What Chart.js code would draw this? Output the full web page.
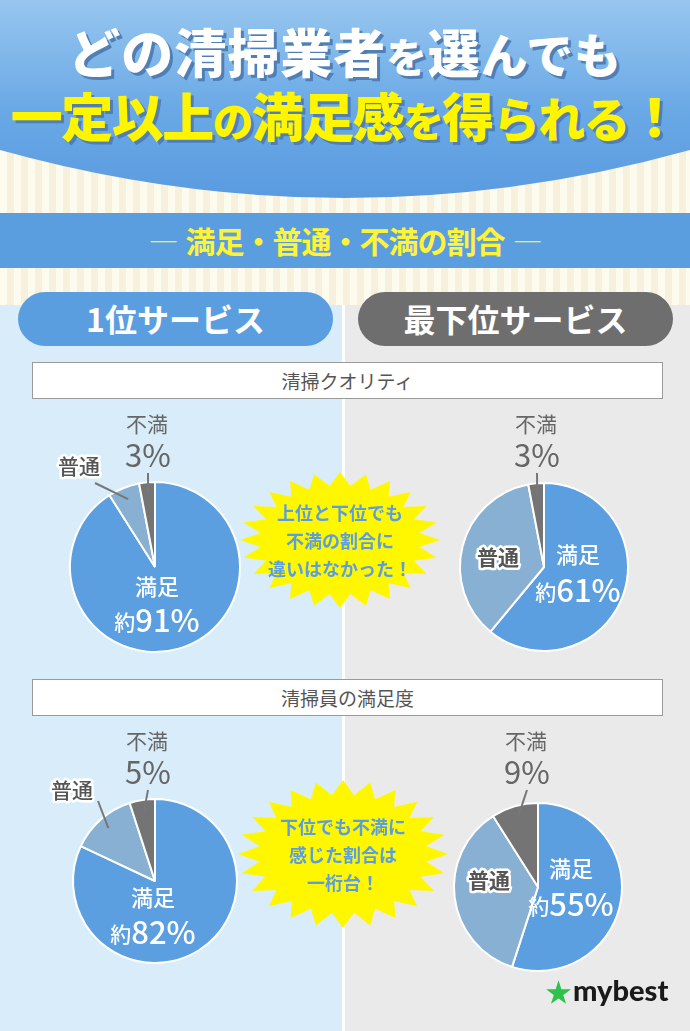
<!DOCTYPE html>
<html lang="ja">
<head>
<meta charset="utf-8">
<script src="https://cdn.jsdelivr.net/npm/chart.js@4.4.0/dist/chart.umd.min.js"></script>
<style>
  body { margin: 0; width: 690px; height: 1031px; overflow: hidden; position: relative;
         font-family: "Noto Sans CJK JP", "Noto Sans", sans-serif; background: #fcf8ea; }
  .abs { position: absolute; }
  #cream { left: 0; top: 0; width: 690px; height: 320px;
           background: repeating-linear-gradient(90deg, #fdfaee 0 7px, #f6f0dc 7px 14px); }
  #title { left: 0; top: 0; width: 690px; text-align: center; font-weight: 900; }
  .t1 { position: absolute; left: 0; width: 690px; top: 20px; font-size: 52px; line-height: 62px; color: #fff;
        text-shadow: 3px 3px 0 #4f7fb5; letter-spacing: 1px; }
  .t2 { position: absolute; left: 0; width: 690px; top: 84px; font-size: 52px; line-height: 62px; color: #fff500;
        text-shadow: 3px 3px 0 #4f7fb5; letter-spacing: -1.5px; }
  .sm { font-size: 0.78em; }
  .md { font-size: 0.9em; }
  #band { left: 0; top: 213px; width: 690px; height: 55px; background: #5b9ee0; color: #fff33a;
          text-align: center; font-size: 30px; font-weight: 700; line-height: 55px; letter-spacing: -1px; }
  #band .d { font-weight: 400; margin: 0 8px; }
  #panelL { left: 0; top: 305px; width: 342px; height: 726px; background: #d8edf9; }
  #panelR { left: 345px; top: 305px; width: 345px; height: 726px; background: #eaeaea; }
  #divider { left: 342px; top: 305px; width: 3px; height: 726px; background: #fff; }
  .pill { top: 292px; width: 315px; height: 54px; border-radius: 27px; color: #fff; text-align: center;
          font-size: 32px; font-weight: 700; line-height: 52px; }
  .box { left: 32px; width: 629px; height: 35px; background: #fff; border: 1px solid #9a9a9a;
         text-align: center; color: #555; font-size: 19px; line-height: 35px; }
  .pie { width: 300px; height: 340px; }
  .burst { color: #5b9ee0; font-weight: 700; font-size: 18px; line-height: 28px; text-align: center; }
  #logo { left: 546px; top: 972px; font-family: Lato, "Noto Sans", sans-serif; font-weight: 900; font-size: 29px; color: #1a1a1a; }
  #logo span { color: #2dc24c; font-size: 25px; margin-right: 2px; }
</style>
</head>
<body>
<div id="cream" class="abs"></div>
<svg class="abs" style="left:0;top:0" width="690" height="210">
  <defs>
    <linearGradient id="hg" x1="0" y1="0" x2="0" y2="1">
      <stop offset="0" stop-color="#97c6ef"/>
      <stop offset="0.55" stop-color="#6aa9e6"/>
      <stop offset="1" stop-color="#5a9be0"/>
    </linearGradient>
  </defs>
  <path d="M0,0 H690 V150 Q345,246 0,150 Z" fill="url(#hg)"/>
</svg>
<div id="title" class="abs">
  <div class="t1">どの清掃業者<span class="sm">を</span>選<span class="md">んでも</span></div>
  <div class="t2">一定以上<span class="sm">の</span>満足感<span class="sm">を</span>得<span class="md">られる</span>！</div>
</div>
<div id="band" class="abs"><span class="d">―</span>満足・普通・不満の割合<span class="d">―</span></div>

<div id="panelL" class="abs"></div>
<div id="panelR" class="abs"></div>
<div id="divider" class="abs"></div>
<div class="abs pill" style="left:18px;background:#5b9ee0">1位サービス</div>
<div class="abs pill" style="left:358px;background:#6e6e6e">最下位サービス</div>

<div class="abs box" style="top:362px">清掃クオリティ</div>
<div class="abs box" style="top:679px">清掃員の満足度</div>

<div class="abs pie" id="w0"><canvas id="c0" width="300" height="340"></canvas></div>
<div class="abs pie" id="w1"><canvas id="c1" width="300" height="340"></canvas></div>
<div class="abs pie" id="w2"><canvas id="c2" width="300" height="340"></canvas></div>
<div class="abs pie" id="w3"><canvas id="c3" width="300" height="340"></canvas></div>

<svg class="abs" id="b0" style="left:240px;top:472px" width="200" height="136"></svg>
<div class="abs burst" style="left:240px;top:498px;width:200px">上位と下位でも<br>不満の割合に<br>違いはなかった！</div>
<svg class="abs" id="b1" style="left:238px;top:780px" width="210" height="148"></svg>
<div class="abs burst" style="left:238px;top:812px;width:210px">下位でも不満に<br>感じた割合は<br>一桁台！</div>

<div id="logo" class="abs"><span>★</span>mybest</div>

<script>
// data
const categories = ["満足", "普通", "不満"];
const qualityTop = [91, 6, 3];
const qualityBottom = [61, 36, 3];
const staffTop = [82, 13, 5];
const staffBottom = [55, 36, 9];

const sliceColors = ["#5c9fe0", "#87b0d3", "#747474"];

// where each pie sits and where its labels go (relative to the pie centre)
const pies = [
    {id: "0", values: qualityTop, cx: 155, cy: 567, r: 85,
     sat: [2, 20, 53], dis: [-8, -143], neu: {out: true, pos: [-76, -101], line: [-60, -84]}},
    {id: "1", values: qualityBottom, cx: 544, cy: 567, r: 84,
     sat: [34, -12, 23], dis: [-8, -143], neu: {out: false, pos: [-46, -10]}},
    {id: "2", values: staffTop, cx: 155, cy: 881, r: 82,
     sat: [-2, 17, 51], dis: [-8, -140], neu: {out: true, pos: [-83, -91], line: [-57, -80]}},
    {id: "3", values: staffBottom, cx: 538, cy: 887, r: 84,
     sat: [33, -18, 17], dis: [-12, -146], neu: {out: false, pos: [-49, -7]}}
];

const FONT = '"Noto Sans CJK JP", sans-serif';

const pieLabels = {
    id: "pieLabels",
    afterDatasetsDraw(chart, args, opts) {
        const ctx = chart.ctx;
        const arcs = chart.getDatasetMeta(0).data;
        const vals = chart.data.datasets[0].data;
        const names = chart.data.labels;
        const cx = arcs[0].x, cy = arcs[0].y, R = arcs[0].outerRadius;
        const at = (i, f) => {
            const m = (arcs[i].startAngle + arcs[i].endAngle) / 2;
            return [cx + Math.cos(m) * R * f, cy + Math.sin(m) * R * f];
        };
        const p = opts.cfg;
        ctx.save();
        ctx.textAlign = "center";
        ctx.textBaseline = "middle";

        // 満足 (inside, white)
        ctx.fillStyle = "#fff";
        ctx.font = "500 22px " + FONT;
        ctx.fillText(names[0], cx + p.sat[0], cy + p.sat[1]);
        const small = "約", big = vals[0] + "%";
        ctx.font = "500 21px " + FONT;
        const w1 = ctx.measureText(small).width;
        ctx.font = "500 31px " + FONT;
        const w2 = ctx.measureText(big).width;
        let x0 = cx + p.sat[0] - (w1 + w2) / 2;
        ctx.textAlign = "left";
        ctx.font = "500 21px " + FONT;
        ctx.fillText(small, x0, cy + p.sat[2] + 2);
        ctx.font = "500 31px " + FONT;
        ctx.fillText(big, x0 + w1, cy + p.sat[2]);
        ctx.textAlign = "center";

        // 不満 (outside, grey, with leader line)
        const dx = cx + p.dis[0], dy = cy + p.dis[1];
        ctx.fillStyle = "#666";
        ctx.font = "400 21px " + FONT;
        ctx.fillText(names[2], dx, dy);
        ctx.font = "400 31px " + FONT;
        ctx.fillText(vals[2] + "%", dx + 1, dy + 31);
        const e = at(2, 0.86);
        ctx.strokeStyle = "#777";
        ctx.lineWidth = 2;
        ctx.beginPath();
        ctx.moveTo(dx + 1, dy + 49);
        ctx.lineTo(e[0], e[1]);
        ctx.stroke();

        // 普通
        const nx = cx + p.neu.pos[0], ny = cy + p.neu.pos[1];
        if (p.neu.out) {
            const e2 = at(1, 0.86);
            ctx.beginPath();
            ctx.moveTo(cx + p.neu.line[0], cy + p.neu.line[1]);
            ctx.lineTo(e2[0], e2[1]);
            ctx.stroke();
        }
        ctx.font = (p.neu.out ? "500" : "700") + " 21px " + FONT;
        ctx.lineJoin = "round";
        ctx.lineWidth = 5;
        ctx.strokeStyle = "#fff";
        ctx.strokeText(names[1], nx, ny);
        ctx.fillStyle = "#555";
        ctx.fillText(names[1], nx, ny);
        ctx.restore();
    }
};

pies.forEach(p => {
    const wrap = document.getElementById("w" + p.id);
    wrap.style.left = (p.cx - 150) + "px";
    wrap.style.top = (p.cy - 190) + "px";
    new Chart(document.getElementById("c" + p.id), {
        type: "pie",
        data: {
            labels: categories,
            datasets: [{
                data: p.values,
                backgroundColor: sliceColors,
                borderColor: "#ffffff",
                borderWidth: 2
            }]
        },
        options: {
            responsive: false,
            animation: false,
            events: [],
            radius: p.r,
            layout: {padding: {top: 40}},
            plugins: {
                legend: {display: false},
                tooltip: {enabled: false},
                pieLabels: {cfg: p}
            }
        },
        plugins: [pieLabels]
    });
});

// yellow starbursts behind the comments
function burst(id, w, h, spikes) {
    const svg = document.getElementById(id);
    const pts = [];
    for (let i = 0; i < spikes * 2; i++) {
        const a = Math.PI * i / spikes;
        const f = i % 2 == 0 ? 1 : 0.8;
        pts.push((w / 2 + Math.cos(a) * w / 2 * f).toFixed(1) + "," + (h / 2 + Math.sin(a) * h / 2 * f).toFixed(1));
    }
    svg.innerHTML = '<polygon points="' + pts.join(" ") + '" fill="#fff700"/>';
}
burst("b0", 200, 136, 24);
burst("b1", 210, 148, 24);
</script>
</body>
</html>
